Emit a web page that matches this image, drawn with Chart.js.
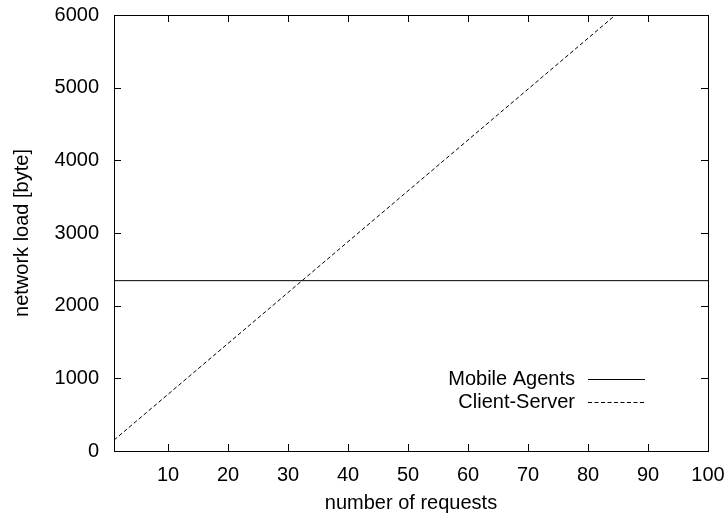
<!DOCTYPE html>
<html><head><meta charset="utf-8">
<script src="https://cdn.jsdelivr.net/npm/chart.js@4"></script>
<style>html,body{margin:0;padding:0;background:#fff}#wrap{width:728px;height:513px}</style>
</head><body><div id="wrap"><canvas id="c" width="728" height="513"></canvas></div>
<script>
const requestsX = [1, 100];
const mobileAgents = [2344, 2344];
const clientServer = [150, 7080];
const xTicks = [10, 20, 30, 40, 50, 60, 70, 80, 90, 100];
const yTicks = [0, 1000, 2000, 3000, 4000, 5000, 6000];
const seriesNames = ['Mobile Agents', 'Client-Server'];
const FONT = 'Liberation Sans, Arial, sans-serif';
const FS = 20;

const frame = {
  id: 'frame',
  afterDatasetsDraw(chart) {
    const {ctx, chartArea: a, scales: {x, y}} = chart;
    ctx.save();
    ctx.strokeStyle = '#000'; ctx.lineWidth = 1;
    ctx.beginPath();
    const L = 7;
    xTicks.forEach(v => { const px = Math.round(x.getPixelForValue(v)) + 0.5;
      ctx.moveTo(px, a.bottom); ctx.lineTo(px, a.bottom - L);
      ctx.moveTo(px, a.top); ctx.lineTo(px, a.top + L); });
    yTicks.forEach(v => { const py = Math.round(y.getPixelForValue(v)) + 0.5;
      ctx.moveTo(a.left, py); ctx.lineTo(a.left + L, py);
      ctx.moveTo(a.right, py); ctx.lineTo(a.right - L, py); });
    ctx.stroke();
    ctx.strokeRect(Math.round(a.left)+0.5, Math.round(a.top)+0.5, Math.round(a.right-a.left), Math.round(a.bottom-a.top));
    // legend
    ctx.font = FS + 'px ' + FONT; ctx.fillStyle = '#000';
    ctx.textAlign = 'right'; ctx.textBaseline = 'middle';
    const ds = chart.data.datasets;
    const rows = [379, 402];
    ds.forEach((d, i) => {
      ctx.fillText(d.label, 575, rows[i]);
      ctx.beginPath(); ctx.setLineDash(d.borderDash || []);
      ctx.moveTo(588, rows[i] + 0.5); ctx.lineTo(645, rows[i] + 0.5); ctx.stroke();
    });
    ctx.setLineDash([]);
    ctx.restore();
  }
};

new Chart(document.getElementById('c'), {
  type: 'line',
  data: {
    datasets: [
      { label: seriesNames[0], data: requestsX.map((v, i) => ({x: v, y: mobileAgents[i]})),
        borderColor: '#000', borderWidth: 1, pointRadius: 0, fill: false, tension: 0 },
      { label: seriesNames[1], data: requestsX.map((v, i) => ({x: v, y: clientServer[i]})),
        borderColor: '#000', borderWidth: 1, borderDash: [4, 2.5], pointRadius: 0, fill: false, tension: 0 }
    ]
  },
  options: {
    responsive: false, animation: false, devicePixelRatio: 1,
    layout: { padding: { top: 15, right: 20, left: 0, bottom: 0 } },
    plugins: { legend: { display: false }, tooltip: { enabled: false } },
    scales: {
      x: { type: 'linear', min: 1, max: 100,
        afterBuildTicks: s => { s.ticks = xTicks.map(v => ({value: v})); },
        afterFit: s => { s.height = 62; s.paddingLeft = 0; s.paddingRight = 0; },
        grid: { display: false }, border: { display: false },
        ticks: { color: '#000', font: { family: FONT, size: FS }, padding: 4, maxRotation: 0 },
        title: { display: true, text: 'number of requests', color: '#000', font: { family: FONT, size: FS, lineHeight: 1.0 }, padding: { top: 0, bottom: 0 } } },
      y: { type: 'linear', min: 0, max: 6000,
        afterBuildTicks: s => { s.ticks = yTicks.map(v => ({value: v})); },
        afterFit: s => { s.width = 114; s.paddingTop = 0; s.paddingBottom = 0; },
        grid: { display: false }, border: { display: false },
        ticks: { color: '#000', font: { family: FONT, size: FS }, padding: 7, callback: v => String(v) },
        title: { display: true, text: 'network load [byte]', color: '#000', font: { family: FONT, size: FS }, padding: { top: 10, bottom: 10 } } }
    }
  },
  plugins: [frame]
});
</script></body></html>
